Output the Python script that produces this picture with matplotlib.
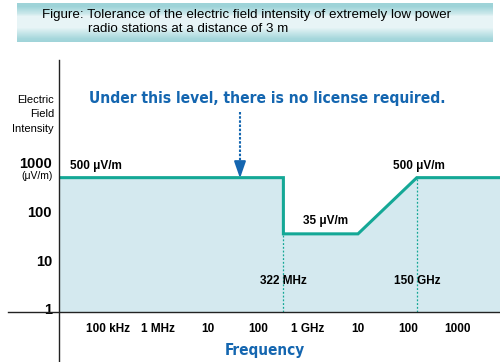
import numpy as np
import matplotlib
matplotlib.use('Agg')
import matplotlib.pyplot as plt
from matplotlib import font_manager

# frequency in MHz, field intensity in uV/m
FREQ_MHZ = [0.01, 322, 322, 10000, 150000, 1e7]
FIELD_UV = [500, 500, 35, 35, 500, 500]
MARK_FREQS = [322, 150000]
MARK_VALUES = [35, 500]
MARK_LABELS = ['322 MHz', '150 GHz']
X_TICKS = [0.1, 1, 10, 100, 1000, 1e4, 1e5, 1e6]
X_TICK_LABELS = ['100 kHz', '1 MHz', '10', '100', '1 GHz', '10', '100', '1000']
Y_TICKS = [1, 10, 100, 1000]
Y_TICK_LABELS = ['1', '10', '100', '1000']

TEAL = '#14a896'
FILL = '#d4e9ef'
BLUE = '#1466b0'

names = {f.name for f in font_manager.fontManager.ttflist}
has_cond = any(f.name == 'DejaVu Sans' and 'condensed' in str(f.stretch)
               for f in font_manager.fontManager.ttflist)
if 'Liberation Sans Narrow' in names:
    NARROW = dict(family='Liberation Sans Narrow')
elif has_cond:
    NARROW = dict(family='DejaVu Sans', stretch='condensed')
else:
    NARROW = dict(family='Liberation Sans')

plt.rcParams['font.family'] = ['Liberation Sans', 'DejaVu Sans']

W, H = 500, 362
fig = plt.figure(figsize=(W / 100, H / 100), dpi=100)

# title banner: teal at top and bottom, pale in the middle
bax = fig.add_axes([17 / W, 1 - 42 / H, 476 / W, 39 / H])
rows = np.arange(39)
mix = np.interp(rows, [0, 3, 10, 13, 24, 35, 39], [1, 1, 0.45, 0.1, 0.1, 0.9, 1])
dark = np.array([0.62, 0.83, 0.85])
light = np.array([0.94, 0.975, 0.98])
grad = light + (dark - light) * mix[:, None]
grad = np.repeat(grad[:, None, :], 2, axis=1)
bax.imshow(grad, aspect='auto', extent=[0, 1, 0, 1], interpolation='nearest')
bax.axis('off')
fig.text(42 / W, 1 - 15 / H, 'Figure: Tolerance of the electric field intensity of extremely low power',
         fontsize=9.6, va='center', ha='left')
fig.text(88 / W, 1 - 29 / H, 'radio stations at a distance of 3 m',
         fontsize=9.6, va='center', ha='left')

ax = fig.add_axes([59 / W, 1 - 312 / H, 441 / W, 252 / H])
ax.set_xscale('log')
ax.set_yscale('log')
x_lo = 0.1 * 10 ** (-49 / 50)
x_hi = 1e6 * 10 ** (42 / 50)
ax.set_xlim(x_lo, x_hi)
dec = 146 / 3
y_lo = 10 ** (-3 / dec)
y_hi = 10 ** (249 / dec)
ax.set_ylim(y_lo, y_hi)

ax.fill_between(FREQ_MHZ, FIELD_UV, y_lo, color=FILL, lw=0, zorder=1)
ax.plot(FREQ_MHZ, FIELD_UV, color=TEAL, lw=2.2, zorder=3, solid_joinstyle='miter')
ax.vlines(MARK_FREQS, y_lo, MARK_VALUES, colors=TEAL, linestyles=(0, (1.5, 1.5)), lw=0.9, zorder=2)

for f, lab in zip(MARK_FREQS, MARK_LABELS):
    ax.text(f, 0.123, lab, transform=ax.get_xaxis_transform(), ha='center', va='center',
            fontsize=8.5, fontweight='bold')

ax.annotate('500 \u03bcV/m', (x_lo, 500), xytext=(11, 12), textcoords='offset pixels',
            ha='left', va='center', fontsize=8.5, fontweight='bold')
ax.annotate('500 \u03bcV/m', (150000, 500), xytext=(2, 12), textcoords='offset pixels',
            ha='center', va='center', fontsize=8.5, fontweight='bold')
ax.annotate('35 \u03bcV/m', (3000, 35), xytext=(-6, 13), textcoords='offset pixels',
            ha='center', va='center', fontsize=8.5, fontweight='bold')

ax.set_xticks(X_TICKS)
ax.set_xticklabels(X_TICK_LABELS, fontsize=8.5, fontweight='bold')
ax.set_yticks(Y_TICKS)
ax.set_yticklabels(Y_TICK_LABELS, fontsize=10.5, fontweight='bold')
ax.minorticks_off()
ax.tick_params(axis='x', length=0, pad=8)
ax.tick_params(axis='y', length=0, pad=5)
for s in ax.spines.values():
    s.set_visible(False)

# axis lines extending past the plot corner
ax.plot([-51 / 441, 1], [0, 0], transform=ax.transAxes, color='#222222', lw=1, clip_on=False, zorder=4)
ax.plot([0, 0], [-50 / 252, 1], transform=ax.transAxes, color='#222222', lw=1, clip_on=False, zorder=4)

# y label
for yy, txt in zip([100, 114, 129], ['Electric', 'Field', 'Intensity']):
    fig.text(54 / W, 1 - yy / H, txt, fontsize=8, ha='right', va='center')
fig.text(53 / W, 1 - 176 / H, '(\u03bcV/m)', fontsize=7.5, ha='right', va='center')

fig.text(265 / W, 1 - 350 / H, 'Frequency', color=BLUE, fontsize=11, fontweight='bold',
         ha='center', va='center', **NARROW)
fig.text(267 / W, 1 - 98 / H, 'Under this level, there is no license required.', color=BLUE,
         fontsize=11.2, fontweight='bold', ha='center', va='center', **NARROW)

# arrow pointing down at the limit line
fig.add_artist(plt.Line2D([240 / W, 240 / W], [1 - 112 / H, 1 - 170 / H], color=BLUE, lw=1.5,
                          linestyle=(0, (1.2, 0.8))))
ax.annotate('', xy=(240 / W, 1 - 181 / H), xytext=(240 / W, 1 - 166 / H),
            xycoords='figure fraction', textcoords='figure fraction',
            arrowprops=dict(arrowstyle='-|>,head_width=0.35,head_length=1.0', color=BLUE, lw=1.5))

fig.savefig('out.png', dpi=100)
